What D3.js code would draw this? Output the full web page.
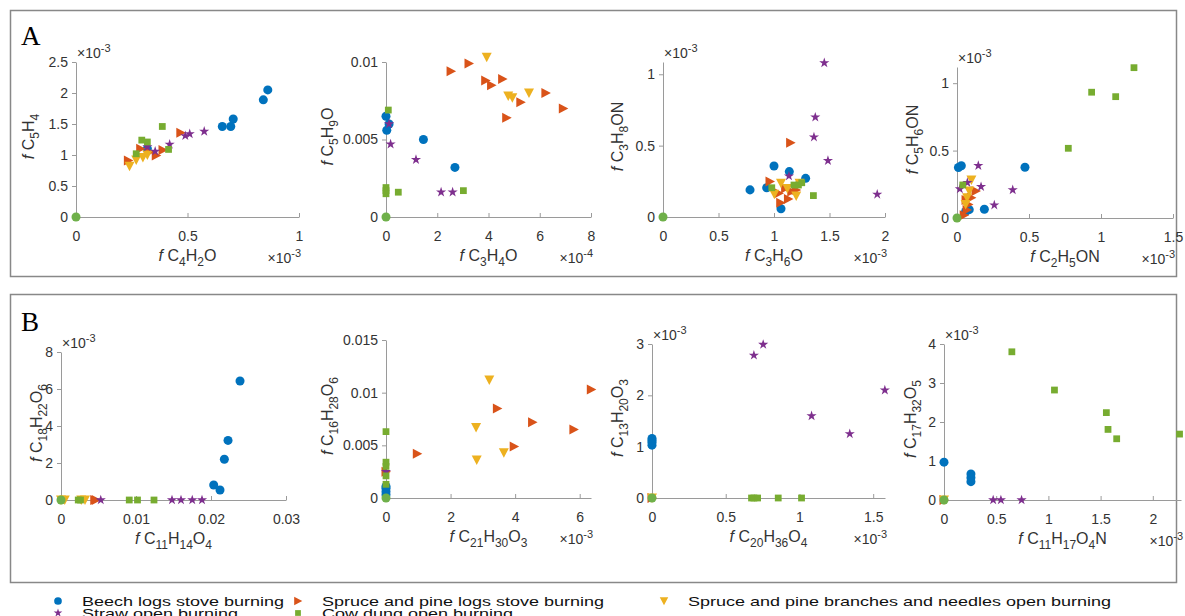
<!DOCTYPE html>
<html>
<head>
<meta charset="utf-8">
<script src="https://cdn.jsdelivr.net/npm/d3@7"></script>
<style>
  body { margin: 0; background: #fff; }
  text { font-family: "Liberation Sans", Arial, sans-serif; }
</style>
</head>
<body>
<svg id="chart" width="1185" height="616"></svg>
<script>
// panel order: A1..A4, B1..B4
var xFormulas = ["C4H2O", "C3H4O", "C3H6O", "C2H5ON", "C11H14O4", "C21H30O3", "C20H36O4", "C11H17O4N"];
var yFormulas = ["C5H4", "C5H9O", "C3H8ON", "C5H6ON", "C18H22O6", "C16H28O6", "C13H20O3", "C17H32O5"];
var xDomains = [[0, 1], [0, 8], [0, 2], [0, 1.5], [0, 0.03], [0, 6.35], [0, 1.58], [0, 2.27]];
var yDomains = [[0, 2.5], [0, 0.01], [0, 1.086], [0, 1.12], [0, 8], [0, 0.015], [0, 3], [0, 4]];
var xTicks = [[0, 0.5, 1], [0, 2, 4, 6, 8], [0, 0.5, 1, 1.5, 2], [0, 0.5, 1, 1.5],
              [0, 0.01, 0.02, 0.03], [0, 2, 4, 6], [0, 0.5, 1, 1.5], [0, 0.5, 1, 1.5, 2]];
var yTicks = [[0, 0.5, 1, 1.5, 2, 2.5], [0, 0.005, 0.01], [0, 0.5, 1], [0, 0.5, 1],
              [0, 2, 4, 6, 8], [0, 0.005, 0.01, 0.015], [0, 1, 2, 3], [0, 1, 2, 3, 4]];
var xExponents = [-3, -4, -3, -3, null, -3, -3, -3];
var yExponents = [-3, null, -3, -3, -3, null, -3, -3];

var seriesNames = ["Beech logs stove burning", "Spruce and pine logs stove burning",
  "Spruce and pine branches and needles open burning", "Straw open burning", "Cow dung open burning"];

// points per panel, in the units shown on the axes
var beech = [
  [[0.32, 1.1], [0.656, 1.46], [0.694, 1.46], [0.705, 1.58], [0.84, 1.89], [0.86, 2.05]],
  [[0, 0.0065], [0.12, 0.006], [0.03, 0.0056], [1.46, 0.005], [2.69, 0.0032]],
  [[0.784, 0.19], [0.934, 0.205], [1.0, 0.357], [1.138, 0.318], [1.285, 0.271], [1.063, 0.058]],
  [[0.01, 0.375], [0.03, 0.388], [0.472, 0.376], [0.19, 0.065], [0.085, 0.062], [0.06, 0.048]],
  [[0.02387, 6.43], [0.02227, 3.22], [0.02178, 2.2], [0.02036, 0.81], [0.0212, 0.54]],
  [[0, 0.0003], [0, 0.0006], [0, 0.0009], [0, 0.0011]],
  [[0, 1.03], [0, 1.08], [0, 1.12], [0, 1.16]],
  [[0, 0.97], [0.258, 0.667], [0.258, 0.57], [0.258, 0.47]]
];
var spruceLogs = [
  [[0.235, 0.91], [0.29, 1.1], [0.33, 1.05], [0.36, 0.99], [0.39, 1.08], [0.47, 1.36]],
  [[2.54, 0.0094], [3.24, 0.0099], [3.89, 0.0088], [4.12, 0.0085], [4.55, 0.0089], [4.71, 0.0064],
   [5.26, 0.0074], [6.24, 0.008], [6.92, 0.007]],
  [[1.15, 0.521], [0.964, 0.248], [1.045, 0.166], [1.105, 0.201], [1.16, 0.178], [1.06, 0.1],
   [1.13, 0.126], [1.2, 0.19]],
  [[0.132, 0.2], [0.063, 0.134], [0.08, 0.1], [0.07, 0.06], [0.05, 0.02], [0.1, 0.15]],
  [[0.0045, 0], [0.0047, 0]],
  [[6.36, 0.0103], [3.45, 0.0085], [4.54, 0.0072], [5.82, 0.0065], [3.97, 0.0049], [0.97, 0.0042], [0, 0.0025]],
  [[0, 0]],
  [[0, 0]]
];
var spruceBranches = [
  [[0.24, 0.82], [0.27, 0.92], [0.30, 0.96], [0.32, 1.0]],
  [[3.93, 0.0103], [4.77, 0.0078], [4.93, 0.0077], [5.58, 0.008]],
  [[1.063, 0.236], [1.003, 0.159], [1.2, 0.147], [1.23, 0.236], [1.12, 0.2]],
  [[0.1, 0.282], [0.085, 0.2], [0.07, 0.15], [0.06, 0.1]],
  [[0, 0], [0.0005, 0], [0.0027, 0], [0.0032, 0]],
  [[3.2, 0.0112], [2.79, 0.0067], [2.81, 0.0036], [3.65, 0.0043]],
  [[0, 0]],
  [[0, 0]]
];
var straw = [
  [[0.32, 1.13], [0.355, 1.06], [0.42, 1.17], [0.49, 1.31], [0.51, 1.34], [0.575, 1.38]],
  [[0.12, 0.006], [0.18, 0.0047], [1.17, 0.0037], [2.15, 0.0016], [2.6, 0.0016]],
  [[1.453, 1.08], [1.372, 0.699], [1.36, 0.56], [1.486, 0.395], [1.93, 0.159], [1.135, 0.287]],
  [[0.148, 0.388], [0.072, 0.262], [0.02, 0.215], [0.167, 0.232], [0.387, 0.208], [0.259, 0.096]],
  [[0.0053, 0], [0.0148, 0], [0.016, 0], [0.0175, 0], [0.0188, 0]],
  [[0, 0.0025]],
  [[0.754, 2.99], [0.691, 2.78], [1.579, 2.1], [1.082, 1.6], [1.341, 1.25]],
  [[0.471, 0], [0.545, 0], [0.743, 0]]
];
var cowDung = [
  [[0.27, 1.02], [0.295, 1.24], [0.32, 1.21], [0.387, 1.46], [0.415, 1.09]],
  [[0.09, 0.0069], [0, 0.0019], [0, 0.0017], [0, 0.0015], [0.48, 0.0016], [3.02, 0.0017]],
  [[0.98, 0.205], [1.18, 0.224], [1.22, 0.224], [1.25, 0.24], [1.355, 0.15]],
  [[1.229, 1.115], [0.935, 0.933], [1.102, 0.9], [0.773, 0.517], [0.04, 0.245]],
  [[0.0023, 0], [0.0026, 0], [0.0091, 0], [0.0102, 0], [0.0124, 0]],
  [[0, 0.0063], [0, 0.0034], [0, 0.003], [0, 0.0021], [0, 0.0013]],
  [[0.675, 0], [0.691, 0], [0.716, 0], [0.856, 0], [1.014, 0]],
  [[0.65, 3.8], [1.058, 2.82], [1.555, 2.24], [1.571, 1.81], [1.654, 1.57], [2.256, 1.69]]
];
var blankPoint = [0, 0]; // green dot drawn at the origin of every panel

// layout (pixels)
var frames = [
  {x0: 76, x1: 299, y0: 217, y1: 62, ylab: 34},
  {x0: 386, x1: 591, y0: 217, y1: 62, ylab: 333},
  {x0: 663, x1: 885, y0: 217, y1: 62, ylab: 623},
  {x0: 957, x1: 1173, y0: 218, y1: 67, ylab: 918},
  {x0: 61, x1: 286, y0: 500, y1: 352, ylab: 42},
  {x0: 386, x1: 591, y0: 498, y1: 340, ylab: 333},
  {x0: 652, x1: 885, y0: 498, y1: 344, ylab: 623},
  {x0: 944, x1: 1181, y0: 500, y1: 344, ylab: 916}
];
var colors = ["#0072BD", "#D95319", "#EDB120", "#7E2F8E", "#77AC30"];
var axisColor = "#9a9a9a", textColor = "#333";

var shapes = [
  d3.symbol().type(d3.symbolCircle).size(64)(),
  "M-4.5,-5L5,0L-4.5,5Z",
  "M-5,-4.5L5,-4.5L0,5Z",
  d3.symbol().type(d3.symbolStar).size(32)(),
  d3.symbol().type(d3.symbolSquare).size(46)()
];

var svg = d3.select("#chart");

// panel boxes
svg.append("rect").attr("x", 10.5).attr("y", 10.5).attr("width", 1166).attr("height", 266)
  .attr("fill", "none").attr("stroke", "#888").attr("stroke-width", 1.5);
svg.append("rect").attr("x", 10.5).attr("y", 294.5).attr("width", 1166).attr("height", 288)
  .attr("fill", "none").attr("stroke", "#888").attr("stroke-width", 1.5);
svg.append("text").attr("x", 21).attr("y", 45).text("A")
  .style("font-family", "'Liberation Serif', 'Times New Roman', serif").style("font-size", "27px");
svg.append("text").attr("x", 21).attr("y", 331).text("B")
  .style("font-family", "'Liberation Serif', 'Times New Roman', serif").style("font-size", "27px");

function writeFormula(t, f) {
  t.append("tspan").style("font-style", "italic").text("f");
  t.append("tspan").text(" ");
  var parts = f.match(/[A-Z][a-z]?|\d+/g);
  var low = false;
  parts.forEach(function (p) {
    var isNum = /\d/.test(p);
    var s = t.append("tspan").text(p);
    if (isNum && !low) { s.attr("dy", 5).style("font-size", "12px"); low = true; }
    else if (isNum) { s.style("font-size", "12px"); }
    else if (low) { s.attr("dy", -5); low = false; }
  });
}

function writeExponent(g, x, y, e, anchor) {
  var t = g.append("text").attr("x", x).attr("y", y).attr("text-anchor", anchor)
    .attr("fill", textColor).style("font-size", "14px");
  t.append("tspan").text("\u00d710");
  t.append("tspan").attr("dy", -6).style("font-size", "11px").text(e);
}

var allSeries = [beech, spruceLogs, spruceBranches, straw, cowDung];

frames.forEach(function (fr, i) {
  var g = svg.append("g");
  var x = d3.scaleLinear().domain(xDomains[i]).range([fr.x0, fr.x1]);
  var y = d3.scaleLinear().domain(yDomains[i]).range([fr.y0, fr.y1]);

  var xa = g.append("g").attr("transform", "translate(0," + fr.y0 + ")")
    .call(d3.axisBottom(x).tickValues(xTicks[i]).tickSize(-4).tickSizeOuter(0)
      .tickFormat(function (d) { return String(d); }));
  var ya = g.append("g").attr("transform", "translate(" + fr.x0 + ",0)")
    .call(d3.axisLeft(y).tickValues(yTicks[i]).tickSize(4).tickSizeOuter(0)
      .tickFormat(function (d) { return String(d); }));
  [xa, ya].forEach(function (a) {
    a.select(".domain").attr("stroke", axisColor);
    a.selectAll(".tick line").attr("stroke", axisColor);
    a.selectAll(".tick text").attr("fill", textColor).style("font-size", "14px")
      .style("font-family", "'Liberation Sans', Arial, sans-serif");
  });
  xa.selectAll(".tick text").attr("y", 24).attr("dy", null);
  ya.selectAll(".tick text").attr("x", -8);

  // axis titles
  var xl = g.append("text").attr("x", (fr.x0 + fr.x1) / 2).attr("y", fr.y0 + 44)
    .attr("text-anchor", "middle").attr("fill", textColor).style("font-size", "16px");
  writeFormula(xl, xFormulas[i]);
  var yl = g.append("text").attr("transform", "translate(" + fr.ylab + "," + ((fr.y0 + fr.y1) / 2 - 3) + ") rotate(-90)")
    .attr("text-anchor", "middle").attr("fill", textColor).style("font-size", "16px");
  writeFormula(yl, yFormulas[i]);

  if (xExponents[i] !== null) writeExponent(g, fr.x1 + 2, fr.y0 + 46, xExponents[i], "end");
  if (yExponents[i] !== null) writeExponent(g, fr.x0 + 1, fr.y1 - 4, yExponents[i], "start");

  allSeries.forEach(function (s, k) {
    g.selectAll(null).data(s[i]).enter().append("path")
      .attr("d", shapes[k])
      .attr("transform", function (d) { return "translate(" + x(d[0]) + "," + y(d[1]) + ")"; })
      .attr("fill", colors[k]);
  });
  g.append("path").attr("d", shapes[0])
    .attr("transform", "translate(" + x(blankPoint[0]) + "," + y(blankPoint[1]) + ")")
    .attr("fill", "#6fb04a");
});

// legend: wide, flattened lettering as in the original figure
var legendX = [58, 298, 664], legendY = [601, 613];
seriesNames.forEach(function (name, k) {
  var lx = legendX[k < 3 ? k : k - 3], ly = legendY[k < 3 ? 0 : 1];
  svg.append("path").attr("d", shapes[k]).attr("fill", colors[k])
    .attr("transform", "translate(" + lx + "," + ly + ") scale(0.85)");
  svg.append("g").attr("transform", "translate(" + (lx + 24) + "," + (ly + 4.5) + ") scale(1,0.72)")
    .append("text").text(name)
    .attr("fill", "#111").style("font-size", "18px");
});
</script>
</body>
</html>
